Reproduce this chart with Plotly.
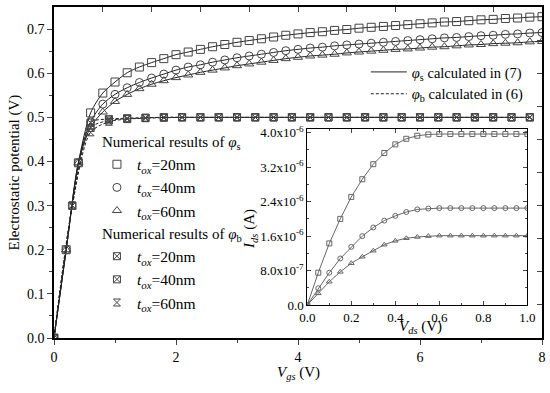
import plotly.graph_objects as go

# ---------------- data ----------------
vgs = [0.0, 0.2, 0.4, 0.6, 0.8, 1.0, 1.2, 1.4, 1.6, 1.8, 2.0, 2.2, 2.4, 2.6, 2.8, 3.0,
       3.2, 3.4, 3.6, 3.8, 4.0, 4.2, 4.4, 4.6, 4.8, 5.0, 5.2, 5.4, 5.6, 5.8, 6.0,
       6.2, 6.4, 6.6, 6.8, 7.0, 7.2, 7.4, 7.6, 7.8, 8.0]
phi_s_20 = [0.000, 0.200, 0.397, 0.510, 0.555, 0.580, 0.601, 0.614, 0.624, 0.633, 0.642,
            0.648, 0.654, 0.660, 0.665, 0.670, 0.674, 0.678, 0.682, 0.686, 0.689,
            0.692, 0.694, 0.697, 0.699, 0.702, 0.704, 0.706, 0.708, 0.710, 0.712,
            0.714, 0.716, 0.717, 0.719, 0.721, 0.722, 0.724, 0.725, 0.727, 0.728]
phi_s_40 = [0.000, 0.200, 0.397, 0.490, 0.530, 0.552, 0.567, 0.579, 0.589, 0.598, 0.607,
            0.614, 0.619, 0.625, 0.630, 0.635, 0.639, 0.643, 0.647, 0.651, 0.654,
            0.657, 0.659, 0.662, 0.664, 0.666, 0.668, 0.670, 0.672, 0.674, 0.676,
            0.678, 0.680, 0.681, 0.683, 0.685, 0.686, 0.688, 0.689, 0.691, 0.692]
phi_s_60 = [0.000, 0.200, 0.397, 0.478, 0.512, 0.536, 0.552, 0.565, 0.575, 0.583, 0.590,
            0.596, 0.602, 0.607, 0.612, 0.617, 0.621, 0.625, 0.629, 0.633, 0.636,
            0.639, 0.641, 0.643, 0.646, 0.648, 0.650, 0.652, 0.654, 0.655, 0.657,
            0.659, 0.660, 0.662, 0.664, 0.665, 0.667, 0.668, 0.669, 0.671, 0.672]

vgs_b = [0.0, 0.3, 0.6, 0.9, 1.2, 1.5, 1.8, 2.1, 2.4, 2.7, 3.0, 3.3, 3.6, 3.9,
         4.2, 4.5, 4.8, 5.1, 5.4, 5.7, 6.0, 6.3, 6.6, 6.9, 7.2, 7.5, 7.8]
phi_b_20 = [0.000, 0.300, 0.488, 0.496, 0.498, 0.499, 0.500, 0.500, 0.500, 0.500, 0.500,
            0.500, 0.500, 0.500, 0.500, 0.500, 0.500, 0.500, 0.500, 0.500, 0.500,
            0.500, 0.500, 0.500, 0.500, 0.500, 0.500]
phi_b_40 = [0.000, 0.300, 0.476, 0.493, 0.497, 0.499, 0.500, 0.500, 0.500, 0.500, 0.500,
            0.500, 0.500, 0.500, 0.500, 0.500, 0.500, 0.500, 0.500, 0.500, 0.500,
            0.500, 0.500, 0.500, 0.500, 0.500, 0.500]
phi_b_60 = [0.000, 0.300, 0.466, 0.490, 0.496, 0.498, 0.499, 0.500, 0.500, 0.500, 0.500,
            0.500, 0.500, 0.500, 0.500, 0.500, 0.500, 0.500, 0.500, 0.500, 0.500,
            0.500, 0.500, 0.500, 0.500, 0.500, 0.500]

# inset: Ids (in units of 1e-6 A) vs Vds
vds = [0.00, 0.05, 0.10, 0.15, 0.20, 0.25, 0.30, 0.35, 0.40, 0.45, 0.50,
       0.55, 0.60, 0.65, 0.70, 0.75, 0.80, 0.85, 0.90, 0.95, 1.00]
ids_20 = [0.00, 0.75, 1.43, 2.00, 2.51, 2.92, 3.27, 3.53, 3.73, 3.86, 3.93,
          3.96, 3.97, 3.97, 3.97, 3.97, 3.97, 3.97, 3.97, 3.97, 3.97]
ids_40 = [0.00, 0.39, 0.75, 1.08, 1.35, 1.60, 1.80, 1.96, 2.07, 2.16, 2.22,
          2.24, 2.25, 2.25, 2.25, 2.25, 2.25, 2.25, 2.25, 2.25, 2.25]
ids_60 = [0.00, 0.27, 0.54, 0.77, 0.97, 1.12, 1.26, 1.40, 1.49, 1.55, 1.58,
          1.60, 1.61, 1.61, 1.61, 1.61, 1.61, 1.61, 1.61, 1.61, 1.61]

inset_ytickvals = [0.0, 0.8, 1.6, 2.4, 3.2, 4.0]
inset_yticktext = ["0.0", "8.0x10<sup>-7</sup>", "1.6x10<sup>-6</sup>",
                   "2.4x10<sup>-6</sup>", "3.2x10<sup>-6</sup>", "4.0x10<sup>-6</sup>"]
tox_labels = ["<i>t</i><sub><i>ox</i></sub>=20nm", "<i>t</i><sub><i>ox</i></sub>=40nm",
              "<i>t</i><sub><i>ox</i></sub>=60nm"]

FONT = "Liberation Serif, Times New Roman, Times, serif"
LINE_C = "#222222"
MK_C = "#444444"
IN_C = "#666666"

fig = go.Figure()

# calculated curves (lines)
for i, ys in enumerate([phi_s_20, phi_s_40, phi_s_60]):
    fig.add_trace(go.Scatter(x=vgs, y=ys, mode="lines",
                             line=dict(color=LINE_C, width=1, shape="spline", smoothing=0.8),
                             legend="legend2", showlegend=(i == 0),
                             name="<i>φ</i><sub>s</sub> calculated in (7)", hoverinfo="skip"))
for i, ys in enumerate([phi_b_20, phi_b_40, phi_b_60]):
    fig.add_trace(go.Scatter(x=vgs_b, y=ys, mode="lines",
                             line=dict(color=LINE_C, width=1, dash="3px,2px", shape="spline", smoothing=0.8),
                             legend="legend2", showlegend=(i == 0),
                             name="<i>φ</i><sub>b</sub> calculated in (6)", hoverinfo="skip"))

# numerical results (markers)
for ys, sym, lbl in zip([phi_s_20, phi_s_40, phi_s_60],
                        ["square-open", "circle-open", "triangle-up-open"], tox_labels):
    fig.add_trace(go.Scatter(x=vgs, y=ys, mode="markers",
                             marker=dict(symbol=sym, size=8, color=MK_C, line=dict(width=1, color=MK_C)),
                             legend="legend", legendgroup="ns",
                             legendgrouptitle=dict(text="Numerical results of <i>φ</i><sub>s</sub>"),
                             name=lbl))
for ys, sym, lbl in zip([phi_b_20, phi_b_40, phi_b_60],
                        ["square-x-open", "square-x-open", "hourglass-open"], tox_labels):
    fig.add_trace(go.Scatter(x=vgs_b, y=ys, mode="markers",
                             marker=dict(symbol=sym, size=7, color=MK_C, line=dict(width=1, color=MK_C)),
                             legend="legend", legendgroup="nb",
                             legendgrouptitle=dict(text="Numerical results of <i>φ</i><sub>b</sub>"),
                             name=lbl))

# inset curves
for ys, sym in zip([ids_20, ids_40, ids_60], ["square-open", "circle-open", "triangle-up-open"]):
    fig.add_trace(go.Scatter(x=vds, y=ys, mode="lines+markers", xaxis="x2", yaxis="y2",
                             line=dict(color=IN_C, width=1),
                             marker=dict(symbol=sym, size=5, color=IN_C, line=dict(width=1, color=IN_C)),
                             showlegend=False))

# empty trace for top/right tick axes
fig.add_trace(go.Scatter(x=[None], y=[None], xaxis="x3", yaxis="y3", showlegend=False))

tickfont = dict(family=FONT, size=14, color="black")
ann_font = dict(family=FONT, size=15, color="black")
fig.update_layout(
    width=550, height=393,
    margin=dict(l=54, r=8, t=7, b=55, autoexpand=False),
    paper_bgcolor="white", plot_bgcolor="white",
    font=dict(family=FONT, size=14, color="black"),
    xaxis=dict(range=[0, 8], tickvals=[0, 2, 4, 6, 8], ticks="outside", ticklen=5, tickwidth=1.2,
               minor=dict(tickvals=[1, 3, 5, 7], ticks="outside", ticklen=3, tickwidth=1),
               showline=True, linewidth=1.5, linecolor="black", mirror=True, automargin=False,
               showgrid=False, zeroline=False, tickfont=tickfont),
    yaxis=dict(range=[0, 0.75], tickvals=[0, 0.1, 0.2, 0.3, 0.4, 0.5, 0.6, 0.7], tickformat=".1f",
               ticks="outside", ticklen=5, tickwidth=1.2,
               minor=dict(tickvals=[0.05, 0.15, 0.25, 0.35, 0.45, 0.55, 0.65], ticks="outside", ticklen=3),
               showline=True, linewidth=1.5, linecolor="black", mirror=True, automargin=False,
               showgrid=False, zeroline=False, tickfont=tickfont),
    xaxis3=dict(range=[0, 8], overlaying="x", side="top", anchor="y3",
                tickvals=[0.8, 1.6, 2.4, 3.2, 4.0, 4.8, 5.6, 6.4, 7.2],
                ticks="inside", ticklen=5, tickwidth=1.2, showticklabels=False, automargin=False,
                showline=False, showgrid=False, zeroline=False),
    yaxis3=dict(range=[0, 0.75], overlaying="y", side="right", anchor="x3",
                tickvals=[0.075, 0.15, 0.225, 0.3, 0.375, 0.45, 0.525, 0.6, 0.675],
                ticks="inside", ticklen=5, tickwidth=1.2, showticklabels=False, automargin=False,
                showline=False, showgrid=False, zeroline=False),
    xaxis2=dict(domain=[0.519, 0.970], anchor="y2", range=[0, 1],
                tickvals=[0, 0.2, 0.4, 0.6, 0.8, 1.0], tickformat=".1f",
                ticks="inside", ticklen=4, tickwidth=1, automargin=False,
                minor=dict(tickvals=[0.1, 0.3, 0.5, 0.7, 0.9], ticks="inside", ticklen=2),
                showline=True, linewidth=1, linecolor="black", mirror="allticks",
                showgrid=False, zeroline=False, tickfont=dict(family=FONT, size=13, color="black")),
    yaxis2=dict(domain=[0.0997, 0.6305], anchor="x2", range=[0, 4.08],
                tickvals=inset_ytickvals, ticktext=inset_yticktext,
                ticks="inside", ticklen=4, tickwidth=1, automargin=False,
                minor=dict(tickvals=[0.4, 1.2, 2.0, 2.8, 3.6], ticks="inside", ticklen=2),
                showline=True, linewidth=1, linecolor="black", mirror="allticks",
                showgrid=False, zeroline=False, tickfont=dict(family=FONT, size=13, color="black")),
    legend=dict(x=0.088, y=0.643, xanchor="left", yanchor="top", bgcolor="rgba(0,0,0,0)",
                font=dict(family=FONT, size=15.5, color="black"), tracegroupgap=0,
                grouptitlefont=dict(family=FONT, size=15, color="black"), traceorder="grouped"),
    legend2=dict(x=0.639, y=0.852, xanchor="left", yanchor="top", bgcolor="rgba(0,0,0,0)",
                 itemwidth=36,
                 font=dict(family=FONT, size=14.5, color="black")),
    annotations=[
        dict(text="Electrostatic potential (V)", x=-0.08, y=0.5, xref="paper", yref="paper",
             xanchor="center", yanchor="middle",
             textangle=-90, showarrow=False, font=ann_font),
        dict(text="<i>V</i><sub><i>gs</i></sub> (V)", x=0.5, y=-0.106, xref="paper", yref="paper",
             xanchor="center", yanchor="middle", showarrow=False, font=ann_font),
        dict(text="<i>I</i><sub><i>ds</i></sub> (A)", x=0.402, y=0.33, xref="paper", yref="paper",
             xanchor="center", yanchor="middle",
             textangle=-90, showarrow=False, font=ann_font),
        dict(text="<i>V</i><sub><i>ds</i></sub> (V)", x=0.75, y=0.033, xref="paper", yref="paper",
             xanchor="center", yanchor="middle", showarrow=False, font=ann_font),
    ],
)

fig.write_html("out.html", config={"displayModeBar": False},
               post_script="document.body.style.margin='0';document.body.style.padding='0';")
